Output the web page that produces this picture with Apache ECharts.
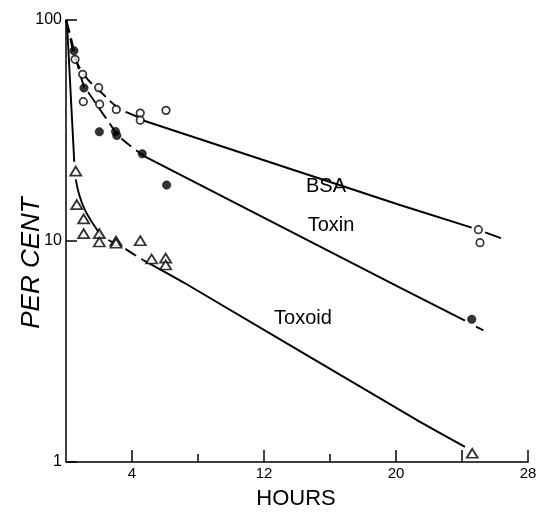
<!DOCTYPE html>
<html><head><meta charset="utf-8">
<script src="https://cdn.jsdelivr.net/npm/echarts@6/dist/echarts.min.js"></script>
<style>html,body{margin:0;padding:0;background:#fff}#c{width:538px;height:512px}</style>
</head><body><div id="c"></div>
<script>
// measured points (hours, per cent)
const bsaPoints = [[0.55,66.4],[1.01,56.8],[1.05,42.7],[1.98,49.4],[2.04,41.6],[3.05,39.4],[4.50,37.9],[4.50,35.2],[6.06,39.0],[24.99,11.25],[25.09,9.83]];
const toxinPoints = [[0.48,72.6],[1.09,49.3],[2.02,31.2],[3.0,31.3],[3.08,30.0],[4.62,24.8],[6.10,17.9],[24.59,4.42]];
const toxoidPoints = [[0.59,20.7],[0.65,14.6],[1.07,12.6],[1.07,10.8],[2.02,10.8],[2.02,9.9],[3.03,10.0],[3.03,9.77],[4.50,10.03],[5.19,8.29],[6.04,8.37],[6.04,7.79],[24.62,1.095]];

// fitted curves
const bsaCurveStart = [[0,100],[0.3,80],[0.55,67],[1.0,58],[1.5,52],[2.2,46.5],[2.9,41.5],[3.5,38.8],[4.2,36.8],[4.73,35.0]];
const bsaCurveMain = [[4.73,35.0],[20.24,14.55],[24.59,11.5]];
const bsaCurveEnd = [[25.4,10.95],[26.36,10.3]];
const toxinCurveStart = [[0,100],[0.25,86],[0.48,73],[1.09,50],[1.39,46.6],[1.8,42],[2.71,33.5],[3.21,29.8],[4.12,26.2],[4.79,24.1]];
const toxinCurveMain = [[4.79,24.1],[20.24,6.15],[24.18,4.36]];
const toxinCurveEnd = [[24.85,4.1],[25.3,3.94]];
const toxoidDrop = [[0.05,100],[0.5,22.8]];
const toxoidCurveStart = [[0.59,19],[0.8,16.2],[1.15,13.8],[1.76,11.6]];
const toxoidCurveDash = [[1.76,11.6],[2.26,10.46],[3.38,9.42],[4.18,8.64],[4.68,8.2]];
const toxoidCurveMain = [[4.68,8.2],[7.21,6.44],[21.25,1.55],[24.18,1.17]];

// ticks
const xMajorTicks = [4,12,20,24,28];
const xMinorTicks = [8,16];
const xTickLabels = [4,12,20,28];
const yTicks = [1,10,100];

const FONT = '"Liberation Sans", Arial, sans-serif';
const chart = echarts.init(document.getElementById('c'), null, {renderer:'canvas'});

function line(data, dashed, smooth){
  return {type:'line', data:data, xAxisIndex:0, yAxisIndex:0, symbol:'none', smooth:smooth===undefined?0.4:smooth,
    z:2, silent:true, animation:false,
    lineStyle:{color:'#000', width:1.9, type: dashed ? [13,6] : 'solid'}};
}

chart.setOption({
  animation:false,
  backgroundColor:'#fff',
  grid:{left:66, right:10, top:20, bottom:50, containLabel:false, outerBoundsMode:'none'},
  xAxis:[{
    type:'value', min:0, max:28, position:'bottom',
    axisLine:{show:true, lineStyle:{color:'#000', width:1.5}},
    axisTick:{show:true, inside:true, length:12, lineStyle:{color:'#000', width:1.5}, customValues:xMajorTicks},
    axisLabel:{show:true, color:'#000', fontSize:15, fontFamily:FONT, margin:4, customValues:xTickLabels},
    splitLine:{show:false}
  },{
    type:'value', min:0, max:28, position:'bottom',
    axisLine:{show:false},
    axisTick:{show:true, inside:true, length:8, lineStyle:{color:'#000', width:1.5}, customValues:xMinorTicks},
    axisLabel:{show:false},
    splitLine:{show:false}
  }],
  yAxis:{
    type:'log', logBase:10, min:1, max:100,
    axisLine:{show:true, lineStyle:{color:'#000', width:1.5}},
    axisTick:{show:true, inside:true, length:11, lineStyle:{color:'#000', width:1.5}, customValues:yTicks},
    axisLabel:{show:true, color:'#000', fontSize:16, fontFamily:FONT, margin:4, customValues:yTicks,
      formatter:function(v){return String(v);}},
    splitLine:{show:false}, minorTick:{show:false}
  },
  series:[
    line(bsaCurveStart, true), line(bsaCurveMain, false, false), line(bsaCurveEnd, false, false),
    line(toxinCurveStart, true), line(toxinCurveMain, false, false), line(toxinCurveEnd, false, false),
    line(toxoidDrop, false, false), line(toxoidCurveStart, false), line(toxoidCurveDash, true), line(toxoidCurveMain, false, 0.2),
    {type:'scatter', data:bsaPoints, symbol:'circle', symbolSize:7.5, z:5, animation:false,
      itemStyle:{color:'#fff', borderColor:'#000', borderWidth:1.7}},
    {type:'scatter', data:toxinPoints, symbol:'circle', symbolSize:8.5, z:5, animation:false,
      itemStyle:{color:'#000', borderColor:'#000', borderWidth:0.5}},
    {type:'scatter', data:toxoidPoints, symbol:'triangle', symbolSize:[11,9], z:5, animation:false,
      itemStyle:{color:'#fff', borderColor:'#000', borderWidth:1.8}}
  ],
  graphic:[
    {type:'text', x:326, y:186, style:{text:'BSA', fontSize:20, fontFamily:FONT, fill:'#000', textAlign:'center', textVerticalAlign:'middle'}},
    {type:'text', x:331, y:225, style:{text:'Toxin', fontSize:20, fontFamily:FONT, fill:'#000', textAlign:'center', textVerticalAlign:'middle'}},
    {type:'text', x:303, y:318, style:{text:'Toxoid', fontSize:20, fontFamily:FONT, fill:'#000', textAlign:'center', textVerticalAlign:'middle'}},
    {type:'text', x:296, y:499, style:{text:'HOURS', fontSize:22, fontFamily:FONT, fill:'#000', textAlign:'center', textVerticalAlign:'middle'}},
    {type:'text', x:32, y:263, rotation:Math.PI/2, style:{text:'PER CENT', fontSize:26, fontStyle:'italic', fontFamily:FONT, fill:'#000', textAlign:'center', textVerticalAlign:'middle'}}
  ]
});
</script>
</body></html>
